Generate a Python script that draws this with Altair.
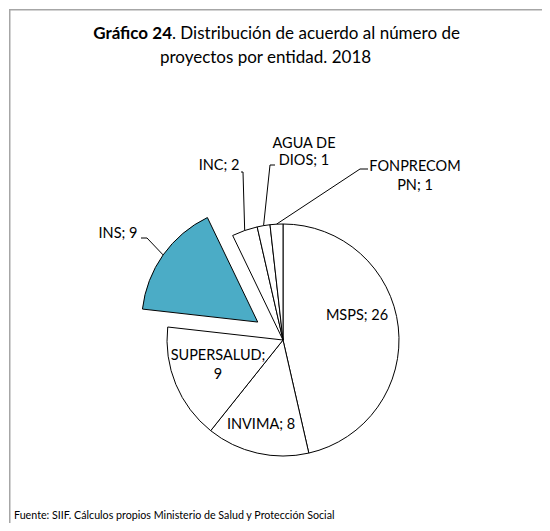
import math
import altair as alt
import pandas as pd

# ---------------- data ----------------
entities = ["MSPS", "INVIMA", "SUPERSALUD", "INS", "INC", "AGUA DE DIOS", "FONPRECOM PN"]
projects = [26, 8, 9, 9, 2, 1, 1]
label_lines = [
    ["MSPS; 26"],
    ["INVIMA; 8"],
    ["SUPERSALUD;", "9"],
    ["INS; 9"],
    ["INC; 2"],
    ["AGUA DE", "DIOS; 1"],
    ["FONPRECOM", "PN; 1"],
]
title_bold = "Gráfico 24"
title_rest = ". Distribución de acuerdo al número de"
title_line2 = "proyectos por entidad. 2018"
source_text = "Fuente: SIIF. Cálculos propios Ministerio de Salud y Protección Social"

# ---------------- layout / style ----------------
W, H = 534, 515
CX, CY, R = 274, 331, 116
FONT = "Lato"
fills = ["#FFFFFF", "#FFFFFF", "#FFFFFF", "#4BACC6", "#FFFFFF", "#FFFFFF", "#FFFFFF"]
explode = {"INS": 31}
label_xy = {
    "MSPS": [(348, 307)],
    "INVIMA": [(252, 416)],
    "SUPERSALUD": [(209, 347), (209, 366)],
    "INS": [(109, 225)],
    "INC": [(210, 157)],
    "AGUA DE DIOS": [(295, 135), (295, 152)],
    "FONPRECOM PN": [(406, 158), (406, 177)],
}
leader_pts = {
    "INS": [(138, 229), (132, 229)],
    "INC": [(234, 163), (232, 163)],
    "AGUA DE DIOS": [(261, 156), (266, 156)],
    "FONPRECOM PN": [(351, 160), (359, 160)],
}

total = sum(projects)

pie_df = pd.DataFrame({
    "entity": entities,
    "value": projects,
    "idx": list(range(len(entities))),
    "explode": [explode.get(e, 0) for e in entities],
})

pie = alt.Chart(pie_df).transform_window(
    cum="sum(value)", sort=[alt.SortField("idx")], frame=[None, 0]
).transform_calculate(
    start="datum.cum - datum.value",
    mid=f"(datum.cum - datum.value / 2) / {total} * 2 * PI",
).transform_calculate(
    cx=f"{CX} + datum.explode * sin(datum.mid)",
    cy=f"{CY} - datum.explode * cos(datum.mid)",
).mark_arc(outerRadius=R, stroke="black", strokeWidth=1).encode(
    theta=alt.Theta("start:Q", stack=None,
                    scale=alt.Scale(domain=[0, total], range=[0, 2 * math.pi])),
    theta2="cum:Q",
    x=alt.X("cx:Q", scale=None, axis=None),
    y=alt.Y("cy:Q", scale=None, axis=None),
    color=alt.Color("entity:N", scale=alt.Scale(domain=entities, range=fills), legend=None),
)

# leader lines: start at the slice edge (from data), then elbow to label
rows = []
cum = 0
for e, v in zip(entities, projects):
    mid = (cum + v / 2) / total * 2 * math.pi
    cum += v
    if e in leader_pts:
        ex = explode.get(e, 0)
        sx = CX + (ex + R) * math.sin(mid)
        sy = CY - (ex + R) * math.cos(mid)
        pts = [(sx, sy)] + leader_pts[e]
        for k, (px, py) in enumerate(pts):
            rows.append({"entity": e, "k": k, "px": px, "py": py})
lead_df = pd.DataFrame(rows)

leaders = alt.Chart(lead_df).mark_line(color="black", strokeWidth=1).encode(
    x=alt.X("px:Q", scale=None, axis=None),
    y=alt.Y("py:Q", scale=None, axis=None),
    detail="entity:N",
    order="k:Q",
)

lab_rows = []
for e, lines in zip(entities, label_lines):
    for (lx, ly), t in zip(label_xy[e], lines):
        lab_rows.append({"t": t, "lx": lx, "ly": ly})
lab_df = pd.DataFrame(lab_rows)

labels = alt.Chart(lab_df).mark_text(font=FONT, fontSize=14.5, color="black", baseline="middle", align="center").encode(
    x=alt.X("lx:Q", scale=None, axis=None),
    y=alt.Y("ly:Q", scale=None, axis=None),
    text="t:N",
)

TB = 163  # boundary between bold and normal parts of title line 1
TS = 17
t1a = alt.Chart(pd.DataFrame({"t": [title_bold]})).mark_text(
    font=FONT, fontSize=TS, fontWeight="bold", align="right", baseline="middle", color="black"
).encode(x=alt.value(TB), y=alt.value(25), text="t:N")
t1b = alt.Chart(pd.DataFrame({"t": [title_rest]})).mark_text(
    font=FONT, fontSize=TS, align="left", baseline="middle", color="black"
).encode(x=alt.value(TB), y=alt.value(25), text="t:N")
t2 = alt.Chart(pd.DataFrame({"t": [title_line2]})).mark_text(
    font=FONT, fontSize=TS, align="center", baseline="middle", color="black"
).encode(x=alt.value(256.5), y=alt.value(49), text="t:N")
src = alt.Chart(pd.DataFrame({"t": [source_text]})).mark_text(
    font=FONT, fontSize=10.7, align="left", baseline="middle", color="black"
).encode(x=alt.value(5), y=alt.value(507), text="t:N")

border_top = alt.Chart(pd.DataFrame({"a": [0]})).mark_rule(color="#A6A6A6", strokeWidth=1.5).encode(
    x=alt.value(0), x2=alt.value(W), y=alt.value(0.75))
border_left = alt.Chart(pd.DataFrame({"a": [0]})).mark_rule(color="#A6A6A6", strokeWidth=1.5).encode(
    x=alt.value(0.75), y=alt.value(0), y2=alt.value(H))

chart = alt.layer(
    border_top, border_left, pie, leaders, labels, t1a, t1b, t2, src
).properties(
    width=W, height=H, padding=0,
    autosize=alt.AutoSizeParams(type="fit", contains="padding"),
).configure_view(stroke=None)

chart.save("out.html", embed_options={"renderer": "svg", "actions": False})
